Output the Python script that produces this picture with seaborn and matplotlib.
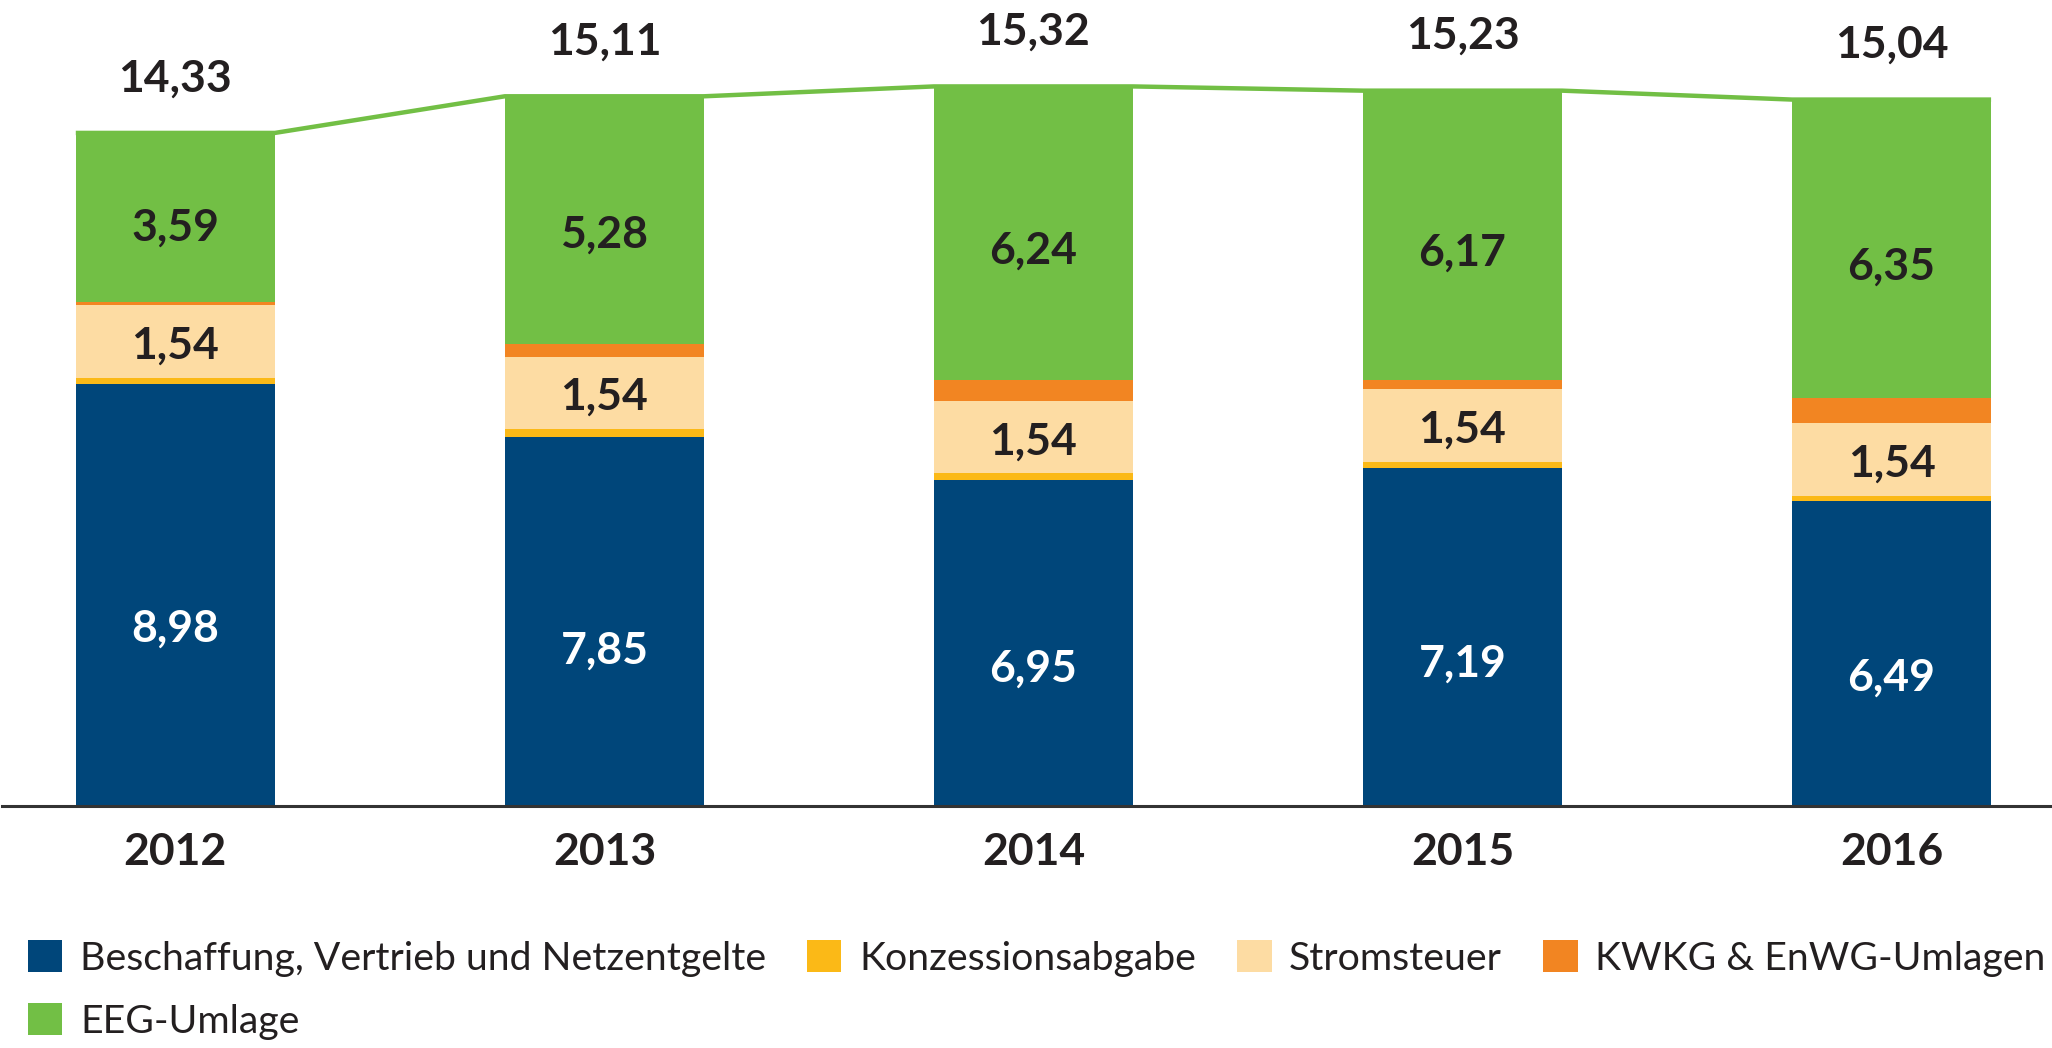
import numpy as np
import pandas as pd
import seaborn as sns
import matplotlib
matplotlib.use("Agg")
import matplotlib.pyplot as plt
from matplotlib.patches import Patch

sns.set_theme(style="white")
plt.rcParams['font.family'] = ['Lato', 'DejaVu Sans']

years = ["2012", "2013", "2014", "2015", "2016"]
beschaffung = [8.98, 7.85, 6.95, 7.19, 6.49]
konzession = [0.14, 0.18, 0.13, 0.14, 0.12]
stromsteuer = [1.54, 1.54, 1.54, 1.54, 1.54]
kwkg = [0.08, 0.26, 0.46, 0.19, 0.54]
eeg = [3.59, 5.28, 6.24, 6.17, 6.35]
totals = [14.33, 15.11, 15.32, 15.23, 15.04]

names = ["Beschaffung, Vertrieb und Netzentgelte", "Konzessionsabgabe",
         "Stromsteuer", "KWKG & EnWG-Umlagen", "EEG-Umlage"]
colors = ["#00467A", "#FBB917", "#FDDCA3", "#F28522", "#72BF45"]
layers = [beschaffung, konzession, stromsteuer, kwkg, eeg]
show_label = [True, False, True, False, True]

dark = "#231F20"
bar_w = 0.464

fig = plt.figure(figsize=(20.52, 10.48), dpi=100)
ax = fig.add_axes([2 / 2052, 1 - 806 / 1048, 1 - 2 / 2052, 806 / 1048])

# stacked bars: draw cumulative sums, top layer first
cum = np.cumsum(np.array(layers), axis=0)
for k in range(len(layers) - 1, -1, -1):
    df = pd.DataFrame({"year": years, "value": cum[k]})
    sns.barplot(data=df, x="year", y="value", color=colors[k], width=bar_w,
                saturation=1, ax=ax, linewidth=0)

# segment labels (sit a little below the middle of each segment)
for k, vals in enumerate(layers):
    if not show_label[k]:
        continue
    frac = 0.42 if k == 0 else 0.44
    for i, v in enumerate(vals):
        base = cum[k][i] - v
        ax.text(i, base + v * frac, f"{v:.2f}".replace(".", ","),
                ha="center", va="center", fontsize=32, fontweight="bold",
                color="white" if k == 0 else dark)

# connecting line over the bar tops
lx, ly = [], []
for i, t in enumerate(totals):
    lx += [i - bar_w / 2, i + bar_w / 2]
    ly += [t, t]
ax.plot(lx, ly, color=colors[4], lw=3.2, zorder=3, solid_capstyle="butt")

# total labels
for i, t in enumerate(totals):
    ax.annotate(f"{t:.2f}".replace(".", ","), (i, t), xytext=(0, 30),
                textcoords="offset points", ha="center", va="baseline",
                fontsize=32, fontweight="bold", color=dark)

ax.set_xlim(-0.404, 4.374)
ax.set_ylim(0, 17.16)
ax.set_xlabel("")
ax.set_ylabel("")
ax.set_yticks([])
for s in ["top", "left", "right"]:
    ax.spines[s].set_visible(False)
ax.spines["bottom"].set_color("#333333")
ax.spines["bottom"].set_linewidth(2.2)
ax.tick_params(axis="x", length=0, pad=19, labelsize=32, labelcolor=dark)
for lab in ax.get_xticklabels():
    lab.set_fontweight("bold")

handles = [Patch(facecolor=c, edgecolor="none") for c in colors]
order = [0, 4, 1, 2, 3]
fig.legend([handles[j] for j in order], [names[j] for j in order],
           loc="upper left", bbox_to_anchor=(28 / 2052, 1 - 940 / 1048),
           ncol=4, frameon=False, fontsize=28.3, labelcolor=dark,
           handlelength=0.87, handleheight=0.87, handletextpad=0.45,
           columnspacing=1.05, labelspacing=0.68, borderpad=0, borderaxespad=0)

fig.savefig("out.png", dpi=100)
